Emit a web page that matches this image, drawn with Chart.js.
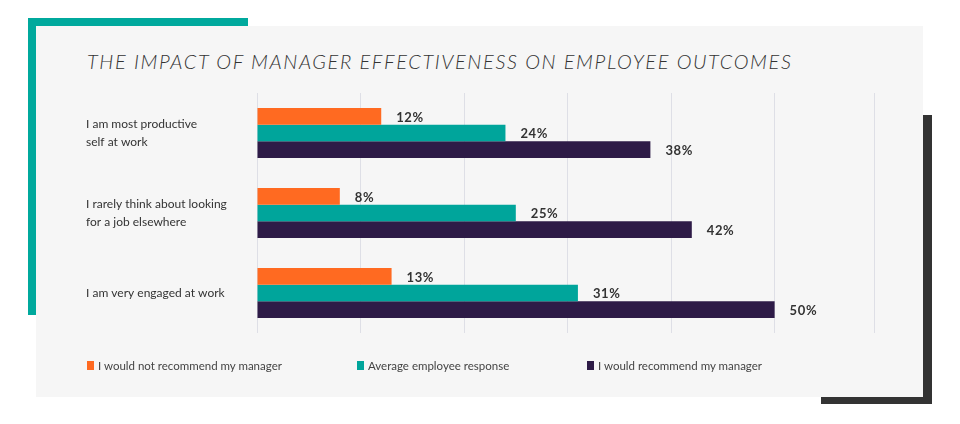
<!DOCTYPE html>
<html>
<head>
<meta charset="utf-8">
<script src="https://cdn.jsdelivr.net/npm/chart.js@4"></script>
<style>
  body { margin: 0; background: #fff; font-family: Lato, "Open Sans", sans-serif; }
  #wrap { position: relative; width: 960px; height: 424px; overflow: hidden; }
  .teal-top { position: absolute; left: 28px; top: 18px; width: 220px; height: 8px; background: #00a99d; }
  .teal-left { position: absolute; left: 28px; top: 18px; width: 8px; height: 297px; background: #00a99d; }
  .dark-right { position: absolute; left: 923px; top: 115px; width: 9px; height: 289px; background: #333; }
  .dark-bottom { position: absolute; left: 821px; top: 397px; width: 111px; height: 7px; background: #333; }
  .panel { position: absolute; left: 36px; top: 26px; width: 887px; height: 371px; background: #f6f6f6; }
  h1 { position: absolute; left: 87px; top: 47px; margin: 0; font-size: 20px; font-weight: 300; font-style: italic;
       letter-spacing: 1.6px; color: #333; white-space: nowrap; line-height: 28px; }
  #legend { position: absolute; left: 0; top: 359px; font-size: 11.5px; color: #444; }
  #legend span.item { position: absolute; display: flex; align-items: center; white-space: nowrap; }
  #legend i { display: inline-block; width: 7px; height: 9px; margin-right: 4px; }
  canvas { position: absolute; left: 0; top: 0; }
</style>
</head>
<body>
<div id="wrap">
  <div class="teal-top"></div>
  <div class="teal-left"></div>
  <div class="dark-right"></div>
  <div class="dark-bottom"></div>
  <div class="panel"></div>
  <h1>THE IMPACT OF MANAGER EFFECTIVENESS ON EMPLOYEE OUTCOMES</h1>
  <canvas id="chart" width="960" height="424"></canvas>
  <div id="legend"></div>
</div>
<script>
const categories = [
  ['I am most productive', 'self at work'],
  ['I rarely think about looking', 'for a job elsewhere'],
  ['I am very engaged at work']
];
const seriesNames = ['I would not recommend my manager', 'Average employee response', 'I would recommend my manager'];
const notRecommend = [12, 8, 13];
const average = [24, 25, 31];
const recommend = [38, 42, 50];
const colors = ['#ff6a21', '#00a59b', '#2e1b47'];

// draw value labels to the right of each bar
const valueLabels = {
  id: 'valueLabels',
  afterDatasetsDraw(chart) {
    const ctx = chart.ctx;
    ctx.save();
    ctx.font = 'bold 13px Lato';
    ctx.fillStyle = '#333';
    ctx.textBaseline = 'middle';
    ctx.letterSpacing = '0.6px';
    chart.data.datasets.forEach((ds, i) => {
      chart.getDatasetMeta(i).data.forEach((bar, j) => {
        ctx.fillText(ds.data[j] + '%', bar.x + 15, bar.y + 1);
      });
    });
    ctx.restore();
  }
};

const ctx = document.getElementById('chart').getContext('2d');
const chart = new Chart(ctx, {
  type: 'bar',
  data: {
    labels: categories,
    datasets: [
      { label: seriesNames[0], data: notRecommend, backgroundColor: colors[0] },
      { label: seriesNames[1], data: average, backgroundColor: colors[1] },
      { label: seriesNames[2], data: recommend, backgroundColor: colors[2] }
    ]
  },
  options: {
    indexAxis: 'y',
    responsive: false,
    animation: false,
    categoryPercentage: 0.625,
    barPercentage: 1,
    layout: { padding: { left: 86, right: 86, top: 93, bottom: 91 } },
    plugins: {
      legend: { display: false },
      tooltip: { enabled: false }
    },
    scales: {
      x: {
        min: 0,
        max: 59.6,
        ticks: { display: false, stepSize: 10 },
        grid: { color: '#dedfe6', drawTicks: false, tickLength: 0 },
        border: { display: false }
      },
      y: {
        ticks: {
          crossAlign: 'far',
          color: '#333',
          font: { family: 'Lato', size: 12, lineHeight: 1.45 }
        },
        grid: { display: false },
        border: { display: false },
        afterFit(scale) { scale.width = 171; }
      }
    }
  },
  plugins: [valueLabels]
});

// legend built from the datasets
const legendX = [87, 357, 587];
const legend = document.getElementById('legend');
chart.data.datasets.forEach((ds, i) => {
  const item = document.createElement('span');
  item.className = 'item';
  item.style.left = legendX[i] + 'px';
  item.innerHTML = '<i style="background:' + ds.backgroundColor + '"></i>' + ds.label;
  legend.appendChild(item);
});
</script>
</body>
</html>
